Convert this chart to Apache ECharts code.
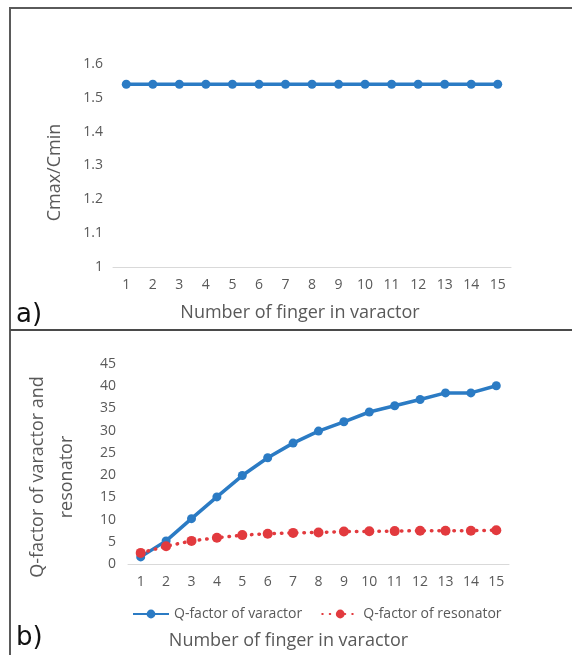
<!DOCTYPE html>
<html>
<head>
<meta charset="utf-8">
<script src="https://cdn.jsdelivr.net/npm/echarts@6/dist/echarts.min.js"></script>
<style>
  html, body { margin: 0; padding: 0; background: #fff; }
  #chart { width: 572px; height: 655px; }
</style>
</head>
<body>
<div id="chart"></div>
<script>
// Finger counts shared by both panels
const fingers = ['1','2','3','4','5','6','7','8','9','10','11','12','13','14','15'];

// Panel a): capacitance tuning ratio
const capRatio = [1.54, 1.54, 1.54, 1.54, 1.54, 1.54, 1.54, 1.54, 1.54, 1.54, 1.54, 1.54, 1.54, 1.54, 1.54];

// Panel b): quality factors
const qVaractor = [1.6, 5.2, 10.2, 15.1, 19.9, 23.9, 27.2, 29.9, 32.0, 34.2, 35.6, 37.0, 38.5, 38.5, 40.1];
const qResonator = [2.5, 4.0, 5.2, 5.9, 6.5, 6.8, 7.0, 7.1, 7.3, 7.35, 7.4, 7.5, 7.5, 7.5, 7.6];

const seriesNames = ['Q-factor of varactor', 'Q-factor of resonator'];

const BLUE = '#2b7bc4';
const RED = '#e23a3e';
const LABEL = '#595959';
const FONT = '"Open Sans", sans-serif';

const chart = echarts.init(document.getElementById('chart'), null, { renderer: 'canvas' });

const catAxis = (gridIndex, nameGap, namePadding) => ({
  type: 'category',
  gridIndex,
  data: fingers,
  boundaryGap: true,
  axisLine: { lineStyle: { color: '#d9d9d9', width: 1 } },
  axisTick: { show: false },
  axisLabel: { color: LABEL, fontFamily: FONT, fontSize: 14, margin: 11 },
  name: 'Number of finger in varactor',
  nameLocation: 'middle',
  nameGap,
  nameTextStyle: { color: LABEL, fontFamily: FONT, fontSize: 18, padding: namePadding }
});

chart.setOption({
  animation: false,
  backgroundColor: '#fff',
  grid: [
    { left: 113, right: 61, top: 64, height: 203 },
    { left: 128, right: 63, top: 364, height: 200 }
  ],
  legend: {
    data: seriesNames,
    top: 602,
    left: 127,
    itemWidth: 36,
    itemHeight: 11,
    itemGap: 19,
    textStyle: { color: LABEL, fontFamily: FONT, fontSize: 14 }
  },
  xAxis: [
    catAxis(0, 37, [0, 24, 0, 0]),
    catAxis(1, 68, [0, 60, 0, 0])
  ],
  yAxis: [
    {
      type: 'value',
      gridIndex: 0,
      min: 1,
      max: 1.6,
      interval: 0.1,
      axisLine: { show: false },
      axisTick: { show: false },
      splitLine: { show: false },
      axisLabel: { color: LABEL, fontFamily: FONT, fontSize: 14, margin: 10 },
      name: 'Cmax/Cmin',
      nameLocation: 'middle',
      nameGap: 49,
      nameTextStyle: { color: LABEL, fontFamily: FONT, fontSize: 18, padding: [0, 14, 0, 0] }
    },
    {
      type: 'value',
      gridIndex: 1,
      min: 0,
      max: 45,
      interval: 5,
      axisLine: { show: false },
      axisTick: { show: false },
      splitLine: { show: false },
      axisLabel: { color: LABEL, fontFamily: FONT, fontSize: 14, margin: 12 },
      name: 'Q-factor of varactor and\nresonator',
      nameLocation: 'middle',
      nameGap: 47,
      nameTextStyle: { color: LABEL, fontFamily: FONT, fontSize: 18, lineHeight: 29, padding: [0, 26, 0, 0] }
    }
  ],
  series: [
    {
      type: 'line',
      xAxisIndex: 0,
      yAxisIndex: 0,
      data: capRatio,
      symbol: 'circle',
      symbolSize: 9,
      itemStyle: { color: BLUE },
      lineStyle: { color: BLUE, width: 3.5 }
    },
    {
      name: seriesNames[0],
      type: 'line',
      xAxisIndex: 1,
      yAxisIndex: 1,
      data: qVaractor,
      symbol: 'circle',
      symbolSize: 9,
      itemStyle: { color: BLUE },
      lineStyle: { color: BLUE, width: 3.5 }
    },
    {
      name: seriesNames[1],
      type: 'line',
      xAxisIndex: 1,
      yAxisIndex: 1,
      data: qResonator,
      symbol: 'circle',
      symbolSize: 10,
      itemStyle: { color: RED },
      lineStyle: { color: RED, width: 3.5, type: [0.5, 7], cap: 'round' }
    }
  ],
  graphic: [
    // panel frame: top edge, left edge and divider between the two panels
    { type: 'line', shape: { x1: 10, y1: 8, x2: 572, y2: 8 }, style: { stroke: '#5a5a5a', lineWidth: 2 } },
    { type: 'line', shape: { x1: 10, y1: 7, x2: 10, y2: 655 }, style: { stroke: '#5a5a5a', lineWidth: 2 } },
    { type: 'line', shape: { x1: 10, y1: 330, x2: 572, y2: 330 }, style: { stroke: '#4a4a4a', lineWidth: 2 } },
    { type: 'text', left: 16, top: 302, style: { text: 'a)', fill: '#111', font: '26px "DejaVu Sans", sans-serif' } },
    { type: 'text', left: 16, top: 625, style: { text: 'b)', fill: '#111', font: '26px "DejaVu Sans", sans-serif' } }
  ]
});
</script>
</body>
</html>
